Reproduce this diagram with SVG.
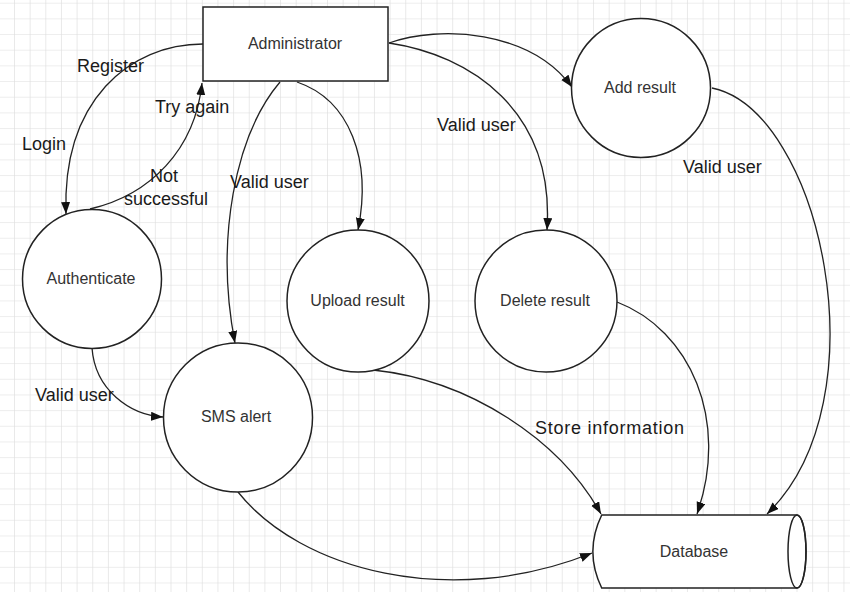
<svg xmlns="http://www.w3.org/2000/svg" width="850" height="592" viewBox="0 0 850 592">
  <defs>
    <pattern id="grid" x="14" y="2.7" width="15.65" height="15.67" patternUnits="userSpaceOnUse">
      <path d="M0,0 H15.65 M0,0 V15.67" fill="none" stroke="#dcdcdc" stroke-width="1.2"/>
    </pattern>
    <marker id="arrow" markerUnits="userSpaceOnUse" markerWidth="13" markerHeight="10" refX="12" refY="4.5" orient="auto">
      <path d="M0,0 L12,4.5 L0,9 Z" fill="#111"/>
    </marker>
    <style>
      .node { fill: #fff; stroke: #222; stroke-width: 1.5; }
      .nlabel { font-family: "Liberation Sans", Arial, sans-serif; font-size: 16px; fill: #333; text-anchor: middle; }
      .edge { fill: none; stroke: #222; stroke-width: 1.3; marker-end: url(#arrow); }
      .elabel { font-family: "Liberation Sans", Arial, sans-serif; font-size: 18px; fill: #1a1a1a; }
    </style>
  </defs>

  <rect x="0" y="0" width="850" height="592" fill="#fff"/>
  <rect x="0" y="0" width="850" height="592" fill="url(#grid)"/>

  <g id="connectors">
    <path class="edge" d="M203,44 C130,44 62,100 66,214"/>
    <path class="edge" d="M90,209 C150,195 195,150 202,83"/>
    <path class="edge" d="M280,82 C235,135 215,240 235,343"/>
    <path class="edge" d="M297,82 C350,100 372,160 358,230"/>
    <path class="edge" d="M389,43 C470,55 555,110 547,230"/>
    <path class="edge" d="M389,43 C440,25 530,30 572,87"/>
    <path class="edge" d="M712,88 C820,110 885,400 767,514"/>
    <path class="edge" d="M617,302 C690,330 730,420 697,514"/>
    <path class="edge" d="M373,370 C470,380 560,440 601,514"/>
    <path class="edge" d="M238,492 C300,570 450,610 592,553"/>
    <path class="edge" d="M92,348 C95,390 130,415 163,417"/>

    <text class="elabel" x="77" y="72">Register</text>
    <text class="elabel" x="22" y="150">Login</text>
    <text class="elabel" x="155" y="113">Try again</text>
    <text class="elabel" x="150" y="182">Not</text>
    <text class="elabel" x="124" y="205">successful</text>
    <text class="elabel" x="230" y="188">Valid user</text>
    <text class="elabel" x="437" y="131">Valid user</text>
    <text class="elabel" x="683" y="173">Valid user</text>
    <text class="elabel" x="35" y="401">Valid user</text>
    <text class="elabel" x="535" y="434" textLength="149" lengthAdjust="spacing">Store information</text>
  </g>

  <g id="administrator">
    <rect class="node" x="203" y="7" width="185" height="74"/>
    <text class="nlabel" x="295" y="49">Administrator</text>
  </g>
  <g id="add-result">
    <circle class="node" cx="641" cy="88" r="69.5"/>
    <text class="nlabel" x="640" y="93">Add result</text>
  </g>
  <g id="authenticate">
    <circle class="node" cx="92" cy="279" r="69.5"/>
    <text class="nlabel" x="91" y="284">Authenticate</text>
  </g>
  <g id="sms-alert">
    <circle class="node" cx="238" cy="417.5" r="74.5"/>
    <text class="nlabel" x="236" y="422">SMS alert</text>
  </g>
  <g id="upload-result">
    <circle class="node" cx="358" cy="301" r="71"/>
    <text class="nlabel" x="357.5" y="306">Upload result</text>
  </g>
  <g id="delete-result">
    <circle class="node" cx="546" cy="301" r="71"/>
    <text class="nlabel" x="545" y="306">Delete result</text>
  </g>
  <g id="database">
    <path class="node" d="M601.7,515 L797,515 A9,36.5 0 0 1 797,588 L601.7,588 Q584,551.5 601.7,515 Z"/>
    <ellipse cx="797" cy="551.5" rx="9" ry="36.5" fill="none" stroke="#222" stroke-width="1.5"/>
    <text class="nlabel" x="694" y="557">Database</text>
  </g>
</svg>
